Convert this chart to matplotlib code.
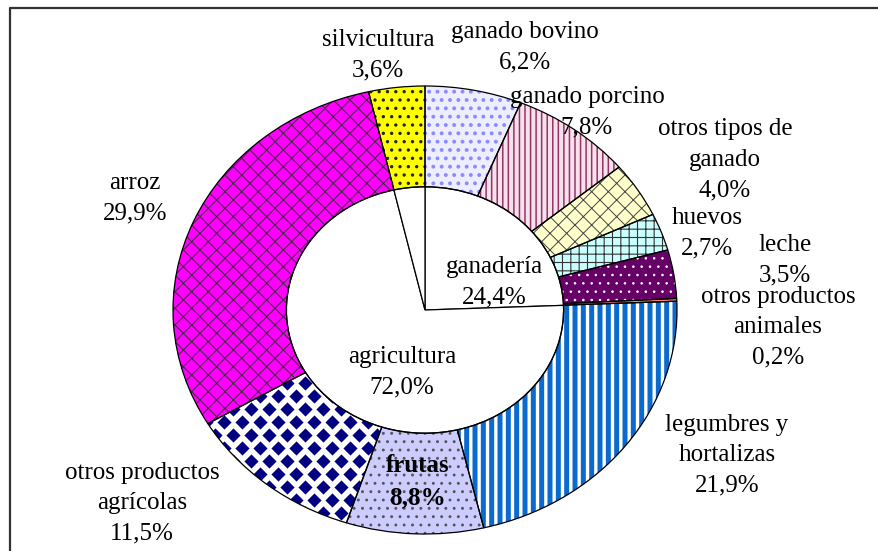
import matplotlib.pyplot as plt
import numpy as np

plt.rcParams['font.family'] = ['Liberation Serif', 'DejaVu Serif']
plt.rcParams['hatch.linewidth'] = 1.0

# anillo exterior, en sentido horario desde las 12
etiquetas = ["ganado bovino", "ganado porcino", "otros tipos de\nganado", "huevos",
             "leche", "otros productos\nanimales", "legumbres y\nhortalizas", "frutas",
             "otros productos\nagrícolas", "arroz", "silvicultura"]
porcentajes = [6.2, 7.8, 4.0, 2.7, 3.5, 0.2, 21.9, 8.8, 11.5, 29.9, 3.6]

# circulo interior
grupos = ["ganadería", "agricultura", "silvicultura"]
porc_grupos = [24.4, 72.0, 3.6]

colores = ['#eeeeff', '#f6e2ec', '#ffffcc', '#ccffff', '#660066', '#ff8080',
           '#0a6ad0', '#ccccff', 'white', '#ff00ff', '#ffff00']
tramas = ['..', '|||', 'xx', '++', '..', '', '||', '..', '', 'xx', '..']
color_trama = ['#8c8cff', '#993366', '#444444', '#333333', 'white', '#ff8080',
               'white', '#555555', 'white', '#4a2a4a', '#222222']
grosor_trama = [1.6, 1.1, 0.7, 0.8, 0.6, 1.0, 2.4, 0.9, 1.0, 0.8, 1.2]

# posicion de cada rotulo en pixeles (centro del bloque)
pos_rotulos = [(525, 47), (587, 112), (725, 160), (707, 233), (785, 260),
               (778, 327), (727, 455), (418, 482), (142, 503), (135, 198),
               (378, 55)]
pos_grupos = [(494, 282), (402, 372)]

W, H = 879, 551
CX, CY, RX, RY = 425, 310, 252, 224


def px(x, y):
    return (x - CX) / RX, (CY - y) / RY


fig = plt.figure(figsize=(W / 100, H / 100), dpi=100)
ax = fig.add_axes([0, 0, 1, 1])

wedges, _ = ax.pie(porcentajes, startangle=90, counterclock=False, radius=1,
                   colors=colores, wedgeprops=dict(width=0.45, linewidth=0))
for w, t, c, lw in zip(wedges, tramas, color_trama, grosor_trama):
    w.set_hatch(t)
    w.set_edgecolor(c)
    if hasattr(w, 'set_hatch_linewidth'):
        w.set_hatch_linewidth(lw)

# rombos azul marino de "otros productos agricolas"
gx, gy = [], []
for j, yy in enumerate(np.arange(370, 545, 13)):
    for xx in np.arange(170, 470, 18):
        gx.append(xx + (9 if j % 2 else 0))
        gy.append(yy)
u, v = px(np.array(gx), np.array(gy))
sc = ax.scatter(u, v, marker='D', s=52, color='#000080', linewidths=0, zorder=1.5)
sc.set_clip_path(wedges[8])

ax.pie(porcentajes, startangle=90, counterclock=False, radius=1,
       wedgeprops=dict(width=0.45, fill=False, edgecolor='black', linewidth=0.9, zorder=2))
ax.pie(porc_grupos, startangle=90, counterclock=False, radius=0.55,
       colors=['white'] * 3, wedgeprops=dict(edgecolor='black', linewidth=0.9))

for et, p, (x, y) in zip(etiquetas, porcentajes, pos_rotulos):
    txt = f"{et}\n{p:.1f}%".replace('.', ',')
    peso = 'bold' if et == 'frutas' else 'normal'
    ax.text(*px(x, y), txt, ha='center', va='center', fontsize=18,
            linespacing=1.5, fontweight=peso, zorder=5)
for g, p, (x, y) in zip(grupos, porc_grupos, pos_grupos):
    txt = f"{g}\n{p:.1f}%".replace('.', ',')
    ax.text(*px(x, y), txt, ha='center', va='center', fontsize=18,
            linespacing=1.5, zorder=5)

# marco
fx, fy = px(np.array([10, 10, 900]), np.array([600, 8, 8]))
ax.plot(fx, fy, color='#333333', lw=1.6, clip_on=False)

ax.set_aspect('auto')
ax.set_xlim(px(0, 0)[0], px(W, 0)[0])
ax.set_ylim(px(0, H)[1], px(0, 0)[1])
ax.axis('off')

fig.savefig('out.png', dpi=100)
